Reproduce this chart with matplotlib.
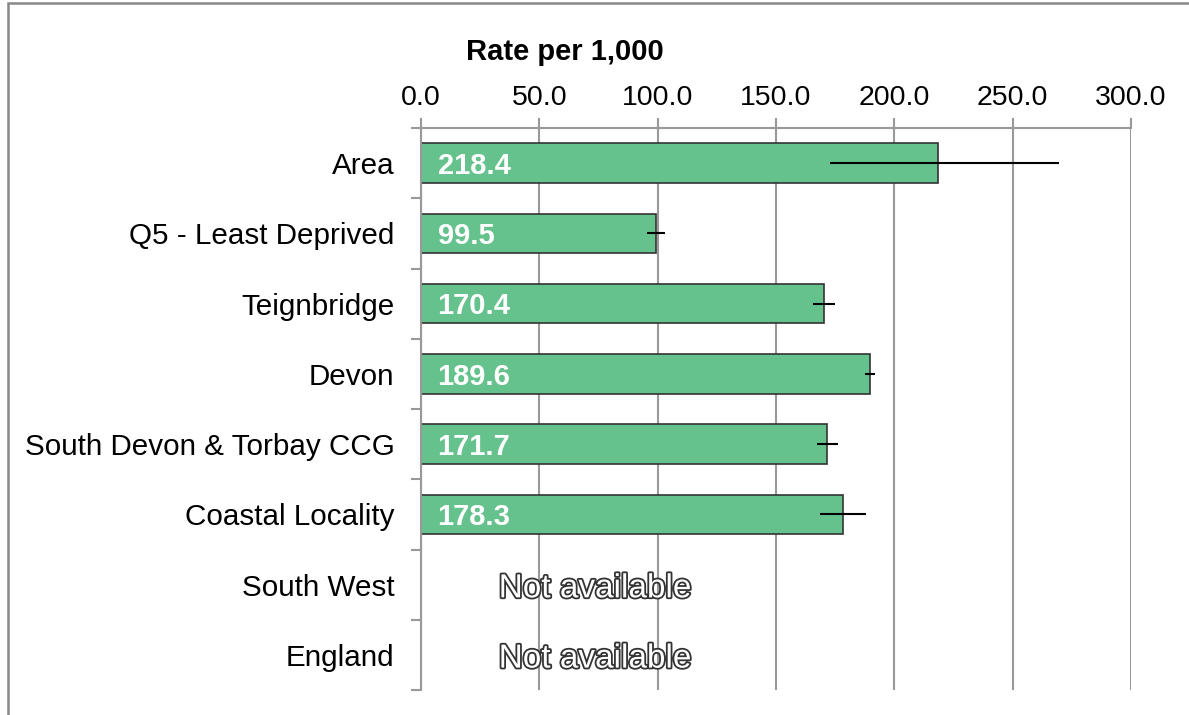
import matplotlib
matplotlib.use("Agg")
import matplotlib.pyplot as plt
import matplotlib.patheffects as pe
from matplotlib.patches import Rectangle
import numpy as np

plt.rcParams['font.family'] = ['Liberation Sans', 'DejaVu Sans']

categories = ["Area", "Q5 - Least Deprived", "Teignbridge", "Devon",
              "South Devon & Torbay CCG", "Coastal Locality", "South West", "England"]
values = [218.4, 99.5, 170.4, 189.6, 171.7, 178.3, None, None]
lower_ci = [172.8, 95.5, 165.6, 187.6, 167.3, 168.6, None, None]
upper_ci = [269.5, 103.1, 174.9, 191.8, 176.2, 188.0, None, None]
xticks = [0, 50, 100, 150, 200, 250, 300]
xlabel = "Rate per 1,000"
na_text = "Not available"

fig = plt.figure(figsize=(11.89, 7.15), dpi=100)
fig.patches.append(Rectangle((8/1189, -0.1), 1.2, (715-3)/715 + 0.1, transform=fig.transFigure,
                             fill=False, edgecolor='#888888', linewidth=1.8, zorder=0))
ax = fig.add_axes([421/1189, 1-690/715, 710/1189, (690-128)/715])

ypos = np.arange(len(categories))
gridc = '#999999'
for x in xticks:
    ax.axvline(x, color=gridc, lw=1.5, zorder=0)

for i, (v, lo, hi) in enumerate(zip(values, lower_ci, upper_ci)):
    if v is None:
        ax.text(73.5, i + 0.06, na_text, ha='center', va='center', fontsize=24, color='white',
                path_effects=[pe.Stroke(linewidth=2.6, foreground='#333333'), pe.Normal()], zorder=5)
        continue
    ax.barh(i, v, height=0.56, color='#66c28d', edgecolor='#333333', linewidth=1.2, zorder=2)
    ax.plot([lo, hi], [i, i], color='black', lw=1.5, zorder=3, solid_capstyle='butt')
    ax.text(7, i + 0.04, f"{v:.1f}", ha='left', va='center', fontsize=21, fontweight='bold',
            color='white', zorder=4)

ax.set_xlim(0, 300)
ax.set_ylim(len(categories) - 0.5, -0.5)
ax.set_xticks(xticks)
ax.set_xticklabels([f"{x:.1f}" for x in xticks])
ax.xaxis.tick_top()
ax.tick_params(axis='x', which='major', length=7, width=1.5, color=gridc,
               labelsize=20.5, pad=5, top=True, bottom=False, labeltop=True, labelbottom=False)
ax.set_yticks(ypos)
ax.set_yticklabels(categories)
ax.set_yticks(np.arange(-0.5, len(categories)), minor=True)
ax.tick_params(axis='y', which='major', length=0, labelsize=21.3, pad=19)
ax.tick_params(axis='y', which='minor', length=7, width=1.5, color=gridc)

for s in ['right', 'bottom']:
    ax.spines[s].set_visible(False)
for s in ['top', 'left']:
    ax.spines[s].set_color(gridc)
    ax.spines[s].set_linewidth(1.5)

fig.text(565/1189, 1-52/715, xlabel, ha='center', va='center', fontsize=21, fontweight='bold')

fig.savefig("out.png", dpi=100)
